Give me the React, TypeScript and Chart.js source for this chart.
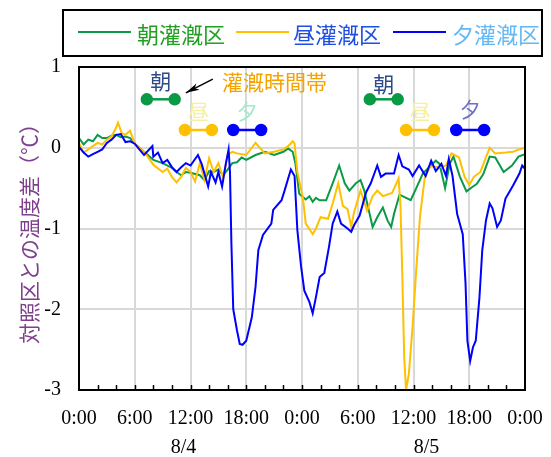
import React, { useEffect, useRef } from "react";
import { Chart, registerables } from "chart.js";

Chart.register(...registerables);

// ---- data (hours from 0:00 on 8/4, temperature difference vs. control plot in °C) ----
const SERIES_NAMES = ["朝灌漑区", "昼灌漑区", "夕灌漑区"];

const greenHours = [0, 0.5, 1, 1.5, 2, 2.5, 3, 3.5, 4, 4.5, 5, 5.5, 6, 7, 8, 9, 10, 10.5, 11, 11.5, 12, 13, 13.5, 14, 14.5, 15, 15.5, 16, 16.5, 17, 17.5, 18, 19, 20, 21, 22, 22.5, 23, 23.3, 23.7, 24.4, 24.8, 25.15, 25.5, 25.9, 26.6, 27.3, 28, 28.6, 29.1, 29.8, 30.3, 30.7, 31.2, 31.6, 32.1, 32.7, 33.2, 33.6, 33.9, 34.5, 35.2, 35.7, 36.3, 37, 37.8, 38.4, 38.8, 39.4, 39.9, 40.3, 41, 41.7, 42.4, 42.8, 43.5, 44.2, 44.8, 45.7, 46.6, 47.3, 48];
const greenValues = [0.12, 0.04, 0.1, 0.08, 0.16, 0.12, 0.12, 0.15, 0.16, 0.13, 0.14, 0.12, 0.05, -0.05, -0.15, -0.19, -0.25, -0.3, -0.34, -0.3, -0.31, -0.34, -0.4, -0.29, -0.3, -0.27, -0.34, -0.27, -0.19, -0.18, -0.12, -0.15, -0.09, -0.05, -0.09, -0.05, -0.01, -0.05, -0.2, -0.57, -0.64, -0.6, -0.67, -0.62, -0.65, -0.65, -0.44, -0.22, -0.44, -0.53, -0.44, -0.4, -0.53, -0.78, -0.98, -0.86, -0.74, -0.9, -0.98, -0.82, -0.58, -0.62, -0.65, -0.5, -0.32, -0.23, -0.16, -0.2, -0.5, -0.2, -0.11, -0.36, -0.54, -0.48, -0.45, -0.33, -0.11, -0.12, -0.3, -0.22, -0.11, -0.08];

const orangeHours = [0, 0.5, 1, 1.5, 2, 2.5, 3, 3.5, 4, 4.2, 4.6, 5, 5.5, 6, 7, 8, 9, 9.5, 10, 10.5, 11, 11.5, 12, 12.5, 13, 13.5, 14, 14.5, 15, 15.5, 16, 16.5, 17, 18, 19, 20, 21, 22, 22.5, 23, 23.2, 23.5, 24.1, 24.4, 25.15, 25.5, 26, 26.8, 27.3, 27.9, 28.4, 28.9, 29.3, 29.6, 30.3, 31, 31.6, 32.1, 32.7, 33.7, 34.4, 34.6, 34.8, 35, 35.2, 35.5, 35.9, 36.3, 36.7, 37.2, 37.8, 38.8, 39.5, 40.1, 40.9, 41.5, 42.0, 42.5, 43.2, 44.2, 44.8, 45.9, 46.7, 47.4, 48];
const orangeValues = [0.06, -0.06, -0.02, 0.02, 0.06, 0.04, 0.1, 0.14, 0.25, 0.31, 0.18, 0.16, 0.21, 0.05, -0.05, -0.21, -0.3, -0.26, -0.36, -0.43, -0.36, -0.25, -0.3, -0.42, -0.19, -0.4, -0.13, -0.3, -0.19, -0.37, -0.09, -0.05, -0.07, -0.09, 0.06, -0.07, -0.05, -0.02, 0.02, 0.08, 0.05, -0.3, -0.62, -0.94, -1.07, -1.0, -0.86, -0.88, -0.69, -0.44, -0.72, -0.76, -0.98, -0.8, -0.53, -0.78, -0.6, -0.53, -0.6, -0.56, -0.38, -0.72, -1.6, -2.6, -3.0, -2.8, -2.22, -1.5, -0.85, -0.38, -0.23, -0.24, -0.22, -0.07, -0.12, -0.36, -0.46, -0.36, -0.3, 0.0, -0.07, -0.06, -0.05, -0.02, 0.0];

const blueHours = [0, 0.5, 1, 1.5, 2, 2.5, 3, 3.5, 4, 4.5, 5, 5.5, 6, 6.5, 7, 7.9, 8, 8.5, 9, 9.5, 10, 10.5, 11, 11.5, 12, 12.8, 13.2, 13.9, 14.2, 14.7, 15, 15.4, 15.8, 16.1, 16.25, 16.4, 16.6, 17, 17.3, 17.6, 18, 18.6, 19, 19.3, 19.8, 20.7, 20.9, 21.8, 22.1, 22.8, 23.2, 23.5, 23.9, 24.25, 24.8, 25.15, 25.5, 25.9, 26.4, 26.9, 27.3, 27.8, 28.2, 28.9, 29.3, 29.6, 30.2, 30.9, 31.4, 32.1, 32.5, 33, 33.9, 34.4, 34.8, 35.5, 35.9, 36.6, 37.3, 37.9, 38.4, 39, 39.5, 39.8, 40.2, 40.7, 41.3, 41.6, 41.8, 42.1, 42.4, 42.7, 43.1, 43.4, 43.8, 44.2, 44.5, 45, 45.4, 45.9, 46.7, 47.4, 47.7, 48];
const blueValues = [0.01, -0.06, -0.11, -0.08, -0.05, -0.02, 0.06, 0.1, 0.16, 0.17, 0.07, 0.08, 0.05, -0.02, -0.09, 0.02, -0.11, -0.06, -0.19, -0.15, -0.24, -0.3, -0.24, -0.19, -0.22, -0.09, -0.2, -0.48, -0.3, -0.43, -0.3, -0.48, -0.2, -0.02, -0.3, -1.18, -2.0, -2.26, -2.43, -2.44, -2.39, -2.1, -1.72, -1.27, -1.08, -0.94, -0.77, -0.65, -0.54, -0.27, -0.35, -1.02, -1.47, -1.77, -1.91, -2.05, -1.85, -1.6, -1.55, -1.23, -0.94, -0.79, -0.94, -1.0, -1.04, -0.96, -0.84, -0.55, -0.44, -0.22, -0.36, -0.32, -0.32, -0.09, -0.23, -0.27, -0.35, -0.22, -0.35, -0.16, -0.29, -0.2, -0.35, -0.14, -0.35, -0.82, -1.07, -1.68, -2.39, -2.64, -2.47, -2.39, -1.85, -1.27, -0.9, -0.69, -0.75, -0.98, -0.9, -0.63, -0.47, -0.32, -0.22, -0.26];

// irrigation time windows
const WINDOW_LABELS = ["朝", "昼", "夕", "朝", "昼", "夕"];
const WINDOW_START = [7.3, 11.4, 16.6, 31.3, 35.2, 40.6];
const WINDOW_END = [10.3, 14.3, 19.6, 34.3, 38.2, 43.6];
const WINDOW_SERIES = [0, 1, 2, 0, 1, 2];

const DATE_LABELS = ["8/4", "8/5"];

// ---- styles / positions ----
const SERIES_COLORS = ["#0a9a45", "#ffc000", "#0000ff"];
const LEGEND_TEXT_COLORS = ["#22a022", "#1f4fe0", "#64b8f4"];
const WINDOW_LEVEL = [0.6, 0.22, 0.22, 0.6, 0.22, 0.22];
const WINDOW_LABEL_Y = [0.8, 0.42, 0.43, 0.76, 0.43, 0.45];
const WINDOW_LABEL_COLORS = ["#2f4a8a", "#f6f0a0", "#a2eacc", "#2f4a8a", "#f6f0a0", "#7070c8"];
const DATE_LABEL_X = [11.25, 37.4];
const SERIF = '"Liberation Serif", "Times New Roman", "Noto Sans CJK JP", serif';
const CJK = '"Liberation Serif", "Noto Sans CJK JP", sans-serif';

function pts(xs: number[], ys: number[]) {
  return xs.map((x, i) => ({ x, y: ys[i] }));
}

const decorPlugin = {
  id: "decor",
  afterDatasetsDraw(chart: any) {
    const { ctx, chartArea: a, scales } = chart;
    const x = scales.x;
    const y = scales.y;
    ctx.save();
    // frame
    ctx.strokeStyle = "#000";
    ctx.lineWidth = 2;
    ctx.strokeRect(a.left, a.top, a.right - a.left, a.bottom - a.top);
    // minor ticks every 2 h
    ctx.lineWidth = 1.5;
    for (let h = 2; h < 48; h += 2) {
      const px = Math.round(x.getPixelForValue(h)) + 0.5;
      ctx.beginPath();
      ctx.moveTo(px, a.bottom);
      ctx.lineTo(px, a.bottom - 5);
      ctx.stroke();
    }
    // window labels
    ctx.font = `21px ${CJK}`;
    ctx.textAlign = "center";
    ctx.textBaseline = "middle";
    WINDOW_LABELS.forEach((t, i) => {
      const cx = x.getPixelForValue((WINDOW_START[i] + WINDOW_END[i]) / 2);
      const cy = y.getPixelForValue(WINDOW_LABEL_Y[i]);
      ctx.fillStyle = WINDOW_LABEL_COLORS[i];
      ctx.fillText(t, cx, cy);
    });
    // "灌漑時間帯" label with arrow
    ctx.fillStyle = "#f5a300";
    ctx.textAlign = "left";
    ctx.fillText("灌漑時間帯", x.getPixelForValue(15.4), y.getPixelForValue(0.78));
    const x1 = x.getPixelForValue(14.4), y1 = y.getPixelForValue(0.85);
    const x2 = x.getPixelForValue(11.5), y2 = y.getPixelForValue(0.68);
    const ang = Math.atan2(y2 - y1, x2 - x1);
    ctx.strokeStyle = "#000";
    ctx.fillStyle = "#000";
    ctx.lineWidth = 1.5;
    ctx.beginPath();
    ctx.moveTo(x1, y1);
    ctx.lineTo(x2, y2);
    ctx.stroke();
    ctx.beginPath();
    ctx.moveTo(x2, y2);
    ctx.lineTo(x2 - 14 * Math.cos(ang - 0.25), y2 - 14 * Math.sin(ang - 0.25));
    ctx.lineTo(x2 - 10 * Math.cos(ang), y2 - 10 * Math.sin(ang));
    ctx.lineTo(x2 - 14 * Math.cos(ang + 0.25), y2 - 14 * Math.sin(ang + 0.25));
    ctx.closePath();
    ctx.fill();
    // date labels
    ctx.font = `20px ${SERIF}`;
    ctx.fillStyle = "#000";
    ctx.textAlign = "center";
    DATE_LABELS.forEach((t, i) => {
      ctx.fillText(t, x.getPixelForValue(DATE_LABEL_X[i]), 448);
    });
    ctx.restore();
  },
  afterDraw(chart: any) {
    const { ctx } = chart;
    ctx.save();
    ctx.strokeStyle = "#000";
    ctx.lineWidth = 2;
    ctx.strokeRect(63, 10, 479, 46);
    const lineX = [78, 236, 393];
    const textX = [137, 293, 452];
    ctx.font = `22px ${CJK}`;
    ctx.textBaseline = "middle";
    ctx.textAlign = "left";
    SERIES_NAMES.forEach((name, i) => {
      ctx.strokeStyle = SERIES_COLORS[i];
      ctx.lineWidth = 2;
      ctx.beginPath();
      ctx.moveTo(lineX[i], 32);
      ctx.lineTo(lineX[i] + 53, 32);
      ctx.stroke();
      ctx.fillStyle = LEGEND_TEXT_COLORS[i];
      ctx.fillText(name, textX[i], 37);
    });
    ctx.restore();
  },
};

export default function App() {
  const ref = useRef<HTMLCanvasElement | null>(null);
  useEffect(() => {
    if (!ref.current) return;
    const seriesData = [pts(greenHours, greenValues), pts(orangeHours, orangeValues), pts(blueHours, blueValues)];
    const datasets: any[] = SERIES_NAMES.map((name, i) => ({
      label: name,
      data: seriesData[i],
      borderColor: SERIES_COLORS[i],
      borderWidth: 2,
      pointRadius: 0,
      tension: 0,
      fill: false,
      order: 3 - i,
    }));
    WINDOW_LABELS.forEach((t, i) => {
      const c = SERIES_COLORS[WINDOW_SERIES[i]];
      datasets.push({
        label: "window" + i,
        data: [
          { x: WINDOW_START[i], y: WINDOW_LEVEL[i] },
          { x: WINDOW_END[i], y: WINDOW_LEVEL[i] },
        ],
        borderColor: c,
        backgroundColor: c,
        pointBackgroundColor: c,
        pointBorderColor: c,
        borderWidth: 2.5,
        pointRadius: 5,
        order: 0,
      });
    });
    const chart = new Chart(ref.current, {
      type: "line",
      data: { datasets },
      options: {
        animation: false,
        responsive: false,
        maintainAspectRatio: false,
        layout: { padding: { left: 0, top: 67, right: 26, bottom: 0 } },
        plugins: { legend: { display: false }, tooltip: { enabled: false } },
        scales: {
          x: {
            type: "linear",
            min: 0,
            max: 48,
            afterFit: (s: any) => {
              s.height = 67;
              s.paddingLeft = 0;
              s.paddingRight = 0;
            },
            border: { display: false },
            grid: { color: "#d9d9d9", lineWidth: 2, drawTicks: false },
            ticks: {
              stepSize: 6,
              padding: 17,
              maxRotation: 0,
              autoSkip: false,
              color: "#000",
              font: { family: SERIF, size: 20 },
              callback: (v: any) => `${Number(v) % 24}:00`,
            },
          },
          y: {
            min: -3,
            max: 1,
            afterFit: (s: any) => {
              s.width = 79;
              s.paddingTop = 0;
              s.paddingBottom = 0;
            },
            border: { display: false },
            grid: { color: "#d9d9d9", lineWidth: 2, drawTicks: false },
            ticks: {
              stepSize: 1,
              padding: 18,
              color: "#000",
              font: { family: SERIF, size: 20 },
            },
            title: {
              display: true,
              text: "対照区との温度差（℃）",
              color: "#7e3f8e",
              font: { family: CJK, size: 21 },
              padding: { top: 19, bottom: 0 },
            },
          },
        },
      },
      plugins: [decorPlugin],
    });
    return () => chart.destroy();
  }, []);
  return (
    <div style={{ position: "fixed", left: 0, top: 0, width: 551, height: 457, background: "#fff" }}>
      <canvas ref={ref} width={551} height={457} style={{ display: "block" }} />
    </div>
  );
}
